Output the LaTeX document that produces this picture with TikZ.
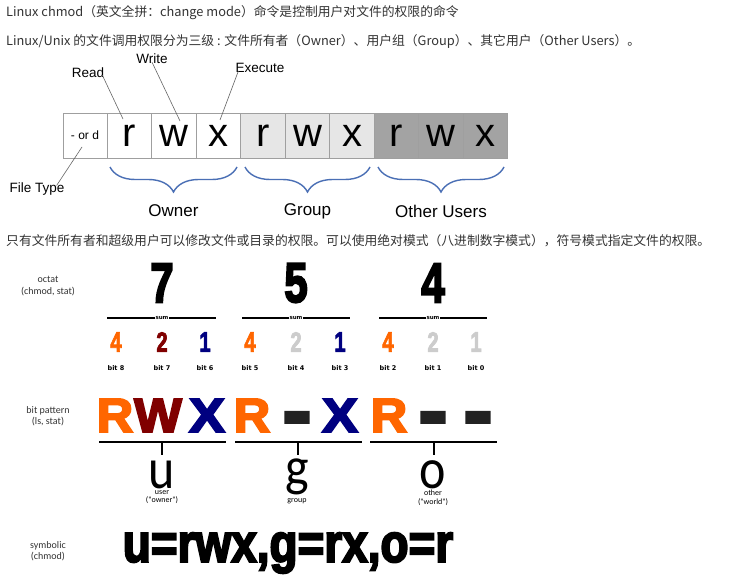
\documentclass[tikz,border=0pt]{standalone}
\usepackage{fontspec}
\setmainfont{Liberation Sans}
\newfontfamily\cjk{Noto Sans CJK SC}
\newfontfamily\carl{Carlito}
\newfontfamily\dvs{DejaVu Sans}
\newfontfamily\heavy[BoldFeatures={FakeBold=3}]{Liberation Sans}
\newfontfamily\heavier[BoldFeatures={FakeBold=4}]{Liberation Sans}
\usetikzlibrary{decorations.pathreplacing}
\definecolor{txt}{HTML}{333333}
\definecolor{bracec}{HTML}{4A6FB5}
\definecolor{gA}{HTML}{E6E6E6}
\definecolor{gB}{HTML}{A3A3A3}
\definecolor{orng}{HTML}{FF6600}
\definecolor{dred}{HTML}{800000}
\definecolor{navy}{HTML}{000080}
\definecolor{lgry}{HTML}{CCCCCC}
\definecolor{dashc}{HTML}{222222}
\tikzset{
  para/.style={anchor=west, inner sep=0, text=txt, font=\cjk\fontsize{12.8}{14}\selectfont},
  cell/.style={draw=gray!75, line width=0.8, minimum width=44.5, minimum height=45, inner sep=0, font=\fontsize{40}{40}\selectfont},
  lbl/.style={inner sep=0, font=\fontsize{13.5}{15}\selectfont},
  leader/.style={draw=gray!80!black, line width=0.6},
  brc/.style={draw=bracec, line width=1.4, decorate, decoration={brace, mirror, amplitude=25}},
  grp/.style={inner sep=0, font=\fontsize{17}{19}\selectfont},
  side/.style={inner sep=0, align=center, text=black!80, font=\carl\fontsize{10}{11.5}\selectfont},
  bigd/.style={inner sep=0, font=\heavier\bfseries\fontsize{56}{56}\selectfont},
  smd/.style={inner sep=0, text depth=0pt, font=\heavy\bfseries\fontsize{28}{28}\selectfont},
  bitl/.style={inner sep=0, font=\dvs\bfseries\fontsize{6.5}{7}\selectfont},
  sumline/.style={line width=1.3},
  suml/.style={inner sep=1, fill=white, font=\dvs\bfseries\fontsize{5.5}{6}\selectfont},
  pat/.style={inner sep=0, anchor=base, font=\heavier\bfseries\fontsize{48}{48}\selectfont},
  who/.style={inner sep=0, anchor=base, text depth=0pt, font=\carl\fontsize{50}{50}\selectfont},
  whol/.style={inner sep=0, anchor=north, align=center, font=\carl\fontsize{8}{8.5}\selectfont},
}
\begin{document}
\begin{tikzpicture}[x=1pt,y=-1pt]
\useasboundingbox[fill=white] (0,0) rectangle (735,588);
% paragraphs
\node[para] (t1) at (6,13) {Linux chmod（英文全拼：change mode）命令是控制用户对文件的权限的命令};
\node[para] (t2) at (6,41) {Linux/Unix 的文件调用权限分为三级 : 文件所有者（Owner）、用户组（Group）、其它用户（Other Users）。};
\node[para] (t3) at (6,241) {只有文件所有者和超级用户可以修改文件或目录的权限。可以使用绝对模式（八进制数字模式），符号模式指定文件的权限。};
% permission boxes
\node[cell, minimum width=44, font=\fontsize{12}{12}\selectfont] (ft) at (85,135.5) {- or d};
\node[cell] (c1) at (129.5,135.5) {r};
\node[cell] (c2) at (174,135.5) {w};
\node[cell] (c3) at (218.5,135.5) {x};
\node[cell, fill=gA] (c4) at (263,135.5) {r};
\node[cell, fill=gA] (c5) at (307.5,135.5) {w};
\node[cell, fill=gA] (c6) at (352,135.5) {x};
\node[cell, fill=gB] (c7) at (396.5,135.5) {r};
\node[cell, fill=gB] (c8) at (441,135.5) {w};
\node[cell, fill=gB] (c9) at (485.5,135.5) {x};
% labels and leaders
\node[lbl] (read) at (88,73) {Read};
\node[lbl] (write) at (152,59) {Write};
\node[lbl] (exec) at (260,68) {Execute};
\node[lbl] (ftype) at (37,189) {File Type};
\coordinate (pr) at (123,119);
\coordinate (pw) at (180,121);
\coordinate (px) at (220,120);
\coordinate (pf) at (82,147);
\draw[leader] ([xshift=-2pt,yshift=3pt]read.south east) -- (pr);
\draw[leader] ([yshift=2pt]write.south) -- (pw);
\draw[leader] ([xshift=3pt,yshift=2pt]exec.south west) -- (px);
\draw[leader] ([xshift=-8pt,yshift=-3pt]ftype.north east) -- (pf);
% braces
\draw[brc] (110,167) -- (237,167);
\draw[brc] (245,167) -- (370,167);
\draw[brc] (378,167) -- (504,167);
\node[grp] (own) at (173.5,211) {Owner};
\node[grp] (grp) at (307.5,211) {Group};
\node[grp] (oth) at (441,211) {Other Users};
% octal row
\node[side] (octl) at (48,286) {octat\\(chmod, stat)};
\node[bigd] (d7) at (162,283) {\scalebox{0.75}[1]{7}};
\node[bigd] (d5) at (296,283) {\scalebox{0.75}[1]{5}};
\node[bigd] (d4) at (433,283) {\scalebox{0.75}[1]{4}};
\draw[sumline] (107,318) -- (216,318);
\draw[sumline] (242,318) -- (350,318);
\draw[sumline] (379,318) -- (487,318);
\node[suml] (s1) at (162,318) {sum};
\node[suml] (s2) at (296,318) {sum};
\node[suml] (s3) at (433,318) {sum};
\node[smd, text=orng] (b8) at (116,342) {\scalebox{0.72}[1]{4}};
\node[smd, text=dred] (b7) at (162,342) {\scalebox{0.72}[1]{2}};
\node[smd, text=navy] (b6) at (205,342) {\scalebox{0.72}[1]{1}};
\node[smd, text=orng] (b5) at (250,342) {\scalebox{0.72}[1]{4}};
\node[smd, text=lgry] (b4) at (296,342) {\scalebox{0.72}[1]{2}};
\node[smd, text=navy] (b3) at (340,342) {\scalebox{0.72}[1]{1}};
\node[smd, text=orng] (b2) at (388,342) {\scalebox{0.72}[1]{4}};
\node[smd, text=lgry] (b1) at (433,342) {\scalebox{0.72}[1]{2}};
\node[smd, text=lgry] (b0) at (476,342) {\scalebox{0.72}[1]{1}};
\node[bitl] at (116,368) {bit 8};
\node[bitl] at (162,368) {bit 7};
\node[bitl] at (205,368) {bit 6};
\node[bitl] at (250,368) {bit 5};
\node[bitl] at (296,368) {bit 4};
\node[bitl] at (340,368) {bit 3};
\node[bitl] at (388,368) {bit 2};
\node[bitl] at (433,368) {bit 1};
\node[bitl] at (476,368) {bit 0};
% bit pattern
\node[side] (bpl) at (48,416) {bit pattern\\(ls, stat)};
\node[pat, text=orng] (pR1) at (115,432) {\scalebox{1.05}[1]{R}};
\node[pat, text=dred] (pW1) at (158,432) {\scalebox{1.05}[1]{W}};
\node[pat, text=navy] (pX1) at (207,432) {\scalebox{1.12}[1]{X}};
\node[pat, text=orng] (pR2) at (252,432) {\scalebox{1.05}[1]{R}};
\node[pat, text=dashc] (pD2) at (297,432) {\raisebox{-6.5pt}{\scalebox{1.8}[1.7]{-}}};
\node[pat, text=navy] (pX2) at (340,432) {\scalebox{1.12}[1]{X}};
\node[pat, text=orng] (pR3) at (389,432) {\scalebox{1.05}[1]{R}};
\node[pat, text=dashc] (pD3) at (433,432) {\raisebox{-6.5pt}{\scalebox{1.8}[1.7]{-}}};
\node[pat, text=dashc] (pD4) at (478,432) {\raisebox{-6.5pt}{\scalebox{1.8}[1.7]{-}}};
\draw[sumline, line width=1.6] (99,442) -- (226,442);
\draw[sumline, line width=1.6] (235,442) -- (362,442);
\draw[sumline, line width=1.6] (370,442) -- (497,442);
\draw[line width=1.6] (162,442) -- (162,455);
\draw[line width=1.6] (298,442) -- (298,455);
\draw[line width=1.6] (434,442) -- (434,455);
\node[who] (wu) at (162,488) {\scalebox{1}[1.15]{u}};
\node[who] (wg) at (297,485) {\scalebox{1}[1.1]{g}};
\node[who] (wo) at (433,488) {\scalebox{1}[1.15]{o}};
\node[whol] (lu) at (162,490) {user\\("owner")};
\node[whol] (lg) at (297,498) {group};
\node[whol] (lo) at (433,490) {other\\("world")};
% symbolic
\node[side] (syl) at (48,551) {symbolic\\(chmod)};
\node[inner sep=0, font=\heavier\bfseries\fontsize{54}{54}\selectfont] (sym) at (288,553) {\scalebox{0.85}[1]{u=rwx,g=rx,o=r}};
\end{tikzpicture}
\end{document}
